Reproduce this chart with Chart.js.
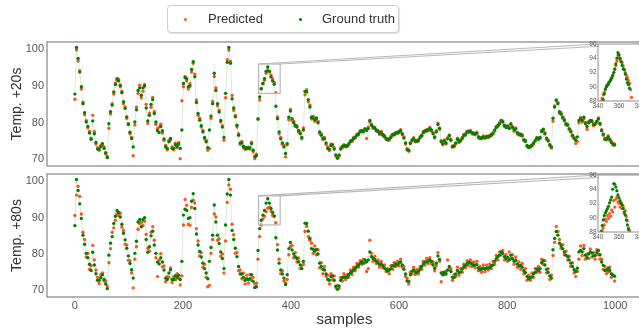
<!DOCTYPE html>
<html>
<head>
<meta charset="utf-8">
<script src="https://cdn.jsdelivr.net/npm/chart.js@4.4.1/dist/chart.umd.min.js"></script>
<style>
html, body { margin: 0; padding: 0; overflow: hidden; background: #fff; }
#wrap { position: relative; width: 646px; height: 329px; font-family: 'Liberation Sans', Arial, sans-serif; }
canvas { position: absolute; }
#legend { position: absolute; left: 167px; top: 5px; width: 230px; height: 26px; border: 1px solid #cfcfcf; border-radius: 4px; box-shadow: 1px 1px 1px rgba(0,0,0,0.12); background: #fff; }
.lg-dot { position: absolute; width: 3.5px; height: 3.5px; border-radius: 50%; top: 11.5px; }
.lg-txt { position: absolute; top: 5.5px; font-size: 13px; line-height: 14px; color: #333; white-space: nowrap; }
</style>
</head>
<body>
<div id="wrap">
  <canvas id="top" width="646" height="170" style="left:0;top:0"></canvas>
  <canvas id="bottom" width="646" height="159" style="left:0;top:170px"></canvas>
  <canvas id="insetTop" width="74" height="76" style="left:572px;top:36px"></canvas>
  <canvas id="insetBottom" width="74" height="76" style="left:572px;top:167px"></canvas>
  <div id="legend">
    <span class="lg-dot" style="left:15.5px;background:rgb(255,87,34)"></span>
    <span class="lg-txt" style="left:40px">Predicted</span>
    <span class="lg-dot" style="left:130.5px;background:rgb(0,128,0)"></span>
    <span class="lg-txt" style="left:154px">Ground truth</span>
  </div>
</div>
<script>
// Series sampled every STEP samples, starting at sample 0
const STEP = 3;

const groundTruth = [
  87.8, 100.5, 97.5, 93.8, 89.8, 85.2, 82.7, 80.2, 79.0, 77.2,
  75.5, 80.5, 77.0, 74.6, 72.8, 72.8, 73.5, 74.3, 73.0, 71.8,
  70.5, 79.7, 83.0, 84.8, 88.4, 90.4, 92.0, 91.4, 90.2, 88.2,
  85.7, 83.9, 81.6, 79.5, 77.4, 75.7, 73.4, 80.2, 83.5, 88.8,
  89.5, 87.5, 89.5, 90.0, 84.0, 80.5, 82.0, 85.0, 86.3, 82.5,
  80.2, 77.8, 77.3, 79.0, 77.8, 75.6, 73.4, 73.0, 74.8, 75.7,
  73.0, 73.0, 74.0, 73.6, 74.2, 73.0, 78.0, 90.7, 92.3, 92.0,
  89.8, 90.0, 94.5, 96.6, 92.5, 85.5, 82.5, 80.7, 79.2, 77.5,
  76.0, 74.8, 73.2, 78.0, 81.8, 85.2, 93.5, 88.8, 85.2, 82.9,
  80.6, 78.8, 76.0, 88.0, 96.5, 100.5, 96.2, 86.5, 84.0, 81.6,
  79.3, 76.6, 74.5, 74.5, 73.6, 72.8, 73.2, 73.0, 73.2, 74.3,
  72.5, 70.8, 71.0, 81.0, 87.0, 89.3, 90.7, 92.0, 94.0, 95.2,
  94.0, 92.5, 91.4, 90.5, 84.5, 81.1, 77.5, 75.6, 74.5, 73.4,
  71.6, 74.3, 81.5, 83.2, 81.1, 80.0, 79.3, 78.8, 77.9, 77.0,
  76.0, 78.0, 88.5, 88.4, 86.3, 84.3, 81.5, 81.3, 80.8, 81.3,
  80.0, 77.5, 76.6, 75.8, 75.6, 74.5, 73.0, 72.8, 73.8, 74.0,
  72.8, 71.2, 70.3, 71.2, 72.8, 73.5, 73.7, 73.7, 73.6, 74.3,
  74.8, 75.2, 75.7, 76.1, 76.6, 77.0, 77.5, 77.9, 77.5, 78.4,
  77.9, 78.4, 80.6, 79.3, 78.8, 78.5, 78.0, 77.6, 77.1, 77.3,
  76.8, 76.2, 75.8, 75.3, 75.6, 76.0, 76.8, 76.7, 77.3, 77.1,
  77.6, 77.8, 77.0, 75.8, 74.5, 72.6, 72.5, 74.3, 75.3, 75.6,
  75.1, 74.9, 75.3, 75.9, 76.6, 77.3, 77.8, 77.8, 78.1, 78.4,
  78.0, 77.0, 76.1, 77.5, 79.5, 78.5, 74.8, 74.3, 75.0, 74.5,
  75.6, 76.6, 75.2, 73.6, 73.6, 74.5, 75.5, 74.9, 75.1, 75.9,
  76.5, 76.9, 77.4, 77.7, 77.6, 77.3, 76.9, 77.0, 77.1, 76.2,
  75.7, 75.9, 76.1, 76.0, 76.1, 76.2, 76.3, 76.8, 77.0, 78.0,
  78.7, 79.3, 79.7, 80.6, 80.2, 79.3, 78.7, 79.1, 78.4, 79.7,
  78.7, 78.0, 78.3, 77.3, 76.7, 76.9, 76.4, 75.4, 74.9, 73.8,
  73.2, 73.6, 73.7, 74.5, 75.0, 75.9, 75.5, 76.0, 77.6, 78.2,
  77.0, 75.8, 75.0, 74.0, 73.4, 81.2, 84.3, 86.2, 85.2, 83.0,
  82.3, 81.5, 80.6, 79.7, 79.3, 78.4, 77.5, 76.6, 75.7, 75.2,
  76.1, 80.6, 81.0, 80.6, 81.5, 79.7, 79.0, 80.0, 80.6, 80.3,
  79.5, 79.6, 80.4, 81.0, 79.8, 77.8, 76.9, 75.5, 75.6, 76.1,
  75.5, 74.6, 74.2, 73.9
];

const predicted20 = [
  86.4, 99.8, 96.8, 94.2, 89.2, 85.6, 82.2, 80.6, 78.6, 77.6,
  75.8, 82.0, 77.6, 74.2, 73.2, 72.5, 73.8, 74.0, 73.4, 71.5,
  70.8, 78.5, 82.4, 85.2, 87.8, 90.8, 91.6, 91.8, 89.8, 88.6,
  85.2, 84.3, 81.2, 79.8, 77.0, 76.0, 71.0, 79.4, 84.2, 88.0,
  90.2, 86.8, 88.6, 90.4, 85.0, 79.8, 82.6, 84.2, 86.9, 83.0,
  79.6, 78.4, 78.8, 79.6, 77.2, 75.2, 73.8, 72.6, 75.2, 75.3,
  73.4, 72.6, 74.4, 73.2, 74.6, 70.2, 86.0, 89.8, 92.6, 91.4,
  89.2, 90.6, 93.8, 96.2, 93.2, 86.2, 82.0, 81.2, 78.8, 77.9,
  75.6, 75.2, 72.5, 73.0, 81.2, 85.8, 92.6, 89.5, 84.6, 83.4,
  80.2, 79.2, 75.2, 86.8, 97.2, 99.8, 96.8, 87.4, 83.4, 82.0,
  78.8, 77.0, 74.1, 74.9, 73.2, 73.2, 72.8, 73.4, 72.8, 74.7,
  72.1, 70.2, 71.4, 81.0, 86.2, 89.2, 90.6, 91.5, 93.5, 94.4,
  93.9, 93.0, 92.0, 91.0, 88.2, 81.6, 77.0, 76.0, 74.1, 73.8,
  70.7, 74.0, 80.8, 83.6, 80.6, 80.4, 79.0, 79.2, 77.5, 77.4,
  75.6, 78.6, 87.6, 89.0, 85.7, 84.8, 81.0, 81.8, 80.4, 81.0,
  80.4, 77.1, 77.0, 75.4, 76.0, 74.1, 73.4, 72.4, 74.2, 73.6,
  73.2, 70.9, 70.6, 70.9, 73.1, 73.2, 74.0, 73.4, 73.9, 74.0,
  75.1, 74.9, 76.0, 75.8, 76.9, 76.7, 77.8, 77.6, 77.8, 78.1,
  75.7, 78.8, 80.2, 79.6, 78.5, 78.8, 77.7, 77.9, 76.8, 77.6,
  76.5, 76.5, 75.5, 75.6, 75.3, 76.3, 76.5, 77.0, 77.0, 77.4,
  77.3, 78.1, 76.7, 76.1, 74.2, 72.9, 72.2, 74.6, 75.0, 75.9,
  74.8, 75.2, 75.0, 76.2, 76.3, 77.6, 77.5, 78.1, 77.8, 78.7,
  77.7, 77.3, 75.8, 77.8, 79.9, 78.2, 75.1, 74.0, 75.3, 74.2,
  75.9, 76.3, 75.5, 73.3, 73.9, 74.2, 75.8, 74.6, 75.4, 75.6,
  76.8, 76.6, 77.7, 77.4, 77.9, 77.0, 77.2, 76.7, 77.4, 75.9,
  76.0, 75.6, 76.4, 75.7, 76.4, 75.9, 76.6, 76.5, 77.3, 77.7,
  79.0, 79.0, 80.0, 80.3, 80.5, 79.0, 79.0, 78.8, 78.7, 79.4,
  79.0, 77.7, 78.6, 77.0, 77.0, 76.6, 76.7, 75.1, 75.2, 73.5,
  73.5, 73.3, 74.0, 74.2, 75.3, 75.6, 75.8, 75.7, 77.9, 77.9,
  77.3, 75.5, 75.3, 73.7, 73.1, 80.4, 84.6, 86.0, 85.5, 82.6,
  82.7, 81.2, 80.9, 79.4, 79.6, 78.1, 77.8, 76.3, 76.0, 74.3,
  74.9, 80.0, 81.4, 80.2, 81.1, 80.1, 78.2, 80.3, 80.3, 80.6,
  79.2, 79.9, 80.1, 81.3, 79.5, 78.1, 76.6, 75.8, 75.3, 76.4,
  75.2, 74.9, 73.9, 74.2
];

const predicted80 = [
  90.6, 96.2, 98.6, 95.8, 91.0, 86.0, 84.0, 79.2, 80.2, 75.8,
  76.8, 82.4, 78.4, 75.6, 73.6, 71.9, 74.3, 74.8, 72.6, 72.6,
  71.2, 77.6, 81.5, 86.0, 87.2, 89.3, 91.0, 90.6, 91.2, 87.4,
  86.5, 82.7, 82.5, 78.3, 78.2, 74.8, 70.7, 78.6, 82.0, 86.8,
  88.4, 88.7, 87.8, 89.0, 85.4, 81.6, 80.8, 86.0, 87.5, 83.8,
  79.0, 73.8, 78.4, 80.1, 76.5, 76.7, 72.4, 73.8, 73.6, 76.2,
  72.2, 73.8, 72.9, 74.6, 73.3, 71.5, 74.0, 88.0, 95.0, 93.4,
  88.2, 87.9, 92.8, 94.8, 94.0, 87.0, 83.6, 79.5, 80.4, 76.4,
  77.2, 73.6, 71.0, 71.4, 80.2, 84.0, 91.0, 90.2, 83.8, 84.2,
  79.4, 80.0, 74.8, 83.6, 94.2, 99.0, 97.8, 88.2, 85.3, 80.2,
  80.4, 75.4, 75.6, 73.2, 74.8, 71.8, 74.2, 72.0, 74.4, 72.8,
  73.6, 71.8, 72.0, 78.6, 84.8, 88.0, 89.6, 90.4, 91.6, 92.6,
  92.9, 91.8, 90.6, 90.3, 88.6, 82.6, 78.6, 74.6, 75.4, 72.6,
  72.0, 73.0, 79.8, 82.0, 82.4, 79.0, 80.4, 77.8, 78.9, 76.0,
  76.9, 77.2, 86.2, 87.6, 84.8, 83.8, 83.0, 80.2, 82.2, 79.8,
  81.2, 76.2, 77.6, 74.6, 76.6, 73.8, 74.2, 71.8, 74.6, 73.0,
  74.0, 70.8, 71.4, 70.6, 73.6, 72.6, 74.6, 73.0, 74.4, 73.6,
  75.6, 74.4, 76.4, 75.4, 77.4, 76.4, 78.2, 77.2, 78.6, 77.6,
  75.2, 76.0, 83.8, 80.2, 78.0, 79.4, 77.4, 78.4, 76.4, 78.0,
  76.2, 77.0, 75.2, 76.0, 74.6, 76.8, 75.8, 77.6, 76.6, 78.0,
  76.8, 78.6, 76.4, 76.6, 73.8, 73.4, 71.8, 75.0, 74.6, 76.4,
  74.4, 75.8, 74.6, 76.6, 75.8, 78.0, 77.0, 78.8, 77.4, 79.0,
  77.4, 77.8, 75.4, 76.8, 80.4, 78.0, 72.4, 75.0, 74.4, 75.2,
  78.4, 75.8, 76.0, 72.8, 74.4, 73.8, 76.4, 74.2, 76.0, 75.0,
  77.2, 76.2, 78.2, 76.8, 78.4, 76.6, 77.8, 76.2, 78.0, 75.4,
  76.6, 75.0, 77.0, 75.2, 77.0, 75.6, 77.2, 76.0, 78.0, 77.2,
  79.6, 78.4, 80.6, 79.8, 81.0, 78.4, 79.8, 78.0, 80.6, 78.8,
  79.8, 77.2, 79.2, 76.4, 77.8, 75.8, 77.4, 74.6, 76.0, 72.8,
  74.2, 72.8, 74.8, 73.6, 76.0, 75.0, 76.6, 75.0, 78.6, 77.2,
  78.2, 74.8, 76.0, 73.0, 74.2, 79.6, 83.2, 87.6, 86.2, 84.0,
  81.6, 82.6, 79.8, 80.8, 78.4, 79.4, 76.6, 77.6, 74.8, 73.8,
  75.2, 78.6, 82.2, 79.6, 82.4, 78.6, 80.0, 78.8, 81.4, 79.2,
  80.4, 78.6, 81.2, 79.8, 78.6, 78.6, 75.8, 76.6, 74.6, 75.0,
  76.4, 73.6, 74.2, 72.6
];

// Zoomed insets: one value per sample, from sample 343
const INSET_START = 343;
const insetGt20 = [86.8, 87.5, 88.2, 89.0, 89.7, 90.0, 90.2, 90.4, 90.7, 91.0,
  91.2, 91.6, 92.0, 92.5, 93.2, 94.0, 94.8, 94.5, 94.0, 93.5,
  93.0, 92.5, 92.4, 91.8, 91.1, 90.6, 90.3, 89.8, 85.7, 84.5];
const insetPred20 = [88.0, 88.4, 88.9, 89.2, 89.6, 90.1, 90.3, 90.6, 90.7, 90.9,
  91.3, 91.5, 92.0, 92.4, 93.0, 93.6, 94.4, 94.2, 93.8, 93.6,
  93.4, 92.9, 92.4, 92.0, 91.6, 91.3, 90.9, 90.5, 89.6, 88.5];
const insetGt80 = [88.1, 88.9, 89.7, 90.3, 90.7, 91.0, 91.3, 91.6, 92.1, 92.5,
  92.9, 94.0, 94.8, 94.7, 94.3, 93.8, 93.2, 92.8, 92.4, 92.1,
  91.8, 91.3, 90.8, 90.4, 89.7, 89.0, 88.4, 87.6, 86.5, 85.2];
const insetPred80 = [87.6, 88.2, 88.6, 89.0, 89.8, 89.5, 90.3, 89.9, 90.6, 90.2,
  91.1, 90.8, 92.4, 91.5, 92.6, 92.9, 92.2, 92.0, 91.5, 92.0,
  91.3, 91.6, 90.6, 91.0, 90.2, 89.6, 88.6, 88.2, 87.4, 86.6];

const xTicks = [0, 200, 400, 600, 800, 1000];
const yTicks = [70, 80, 90, 100];
const insetXTicks = [340, 360, 380];
const insetYTicks = [88, 90, 92, 94, 96];
const ZOOM_X = [340, 380];
const ZOOM_Y = [88, 96];

const GREEN = 'rgb(0,128,0)';
const ORANGE = 'rgb(255,87,34)';
const GT_LINE = 'rgba(0,128,0,0.16)';
const FRAME = '#8e8e8e';
const LINK = '#b8b8b8';

Chart.defaults.font.family = "'Liberation Sans', Arial, sans-serif";
Chart.defaults.color = '#555';

function toPoints(vals, start, step) {
    return vals.map((v, i) => ({ x: start + i * step, y: v }));
}

// stop tick labels from shrinking the plot area
function noLabelPadding(s) {
    s.paddingTop = 0; s.paddingBottom = 0; s.paddingLeft = 0; s.paddingRight = 0;
}

// white fill + grey frame around the plot area
const framePlugin = {
    id: 'frame',
    beforeDatasetsDraw(chart, args, opts) {
        const { ctx, chartArea: a } = chart;
        ctx.save();
        ctx.fillStyle = '#fff';
        ctx.fillRect(a.left, a.top, a.right - a.left, a.bottom - a.top);
        ctx.restore();
    },
    afterDatasetsDraw(chart, args, opts) {
        const { ctx, chartArea: a } = chart;
        ctx.save();
        ctx.strokeStyle = FRAME;
        ctx.lineWidth = opts.width || 1.2;
        ctx.strokeRect(a.left, a.top, a.right - a.left, a.bottom - a.top);
        ctx.restore();
    }
};

// zoom box on the main axes + lines to the inset corners
const zoomLinkPlugin = {
    id: 'zoomLink',
    afterDatasetsDraw(chart, args, opts) {
        if (!opts.inset) return;
        const { ctx, scales: { x, y } } = chart;
        const ia = opts.inset.chartArea;
        const dx = opts.inset.canvas.offsetLeft - chart.canvas.offsetLeft;
        const dy = opts.inset.canvas.offsetTop - chart.canvas.offsetTop;
        const l = x.getPixelForValue(ZOOM_X[0]), r = x.getPixelForValue(ZOOM_X[1]);
        const t = y.getPixelForValue(ZOOM_Y[1]), b = y.getPixelForValue(ZOOM_Y[0]);
        ctx.save();
        ctx.strokeStyle = LINK;
        ctx.lineWidth = 1.2;
        ctx.strokeRect(l, t, r - l, b - t);
        ctx.beginPath();
        ctx.moveTo(l, t);
        ctx.lineTo(ia.left + dx, ia.top + dy);
        ctx.moveTo(r, t);
        ctx.lineTo(ia.right + dx, ia.top + dy);
        ctx.stroke();
        ctx.restore();
    }
};

function datasets(gtPts, predPts, radius) {
    return [
        { label: 'Ground truth', data: gtPts, showLine: true, borderColor: GT_LINE, borderWidth: 1,
          pointRadius: radius, pointBackgroundColor: GREEN, pointBorderWidth: 0, order: 1, clip: 0 },
        { label: 'Predicted', data: predPts, showLine: false,
          pointRadius: radius, pointBackgroundColor: ORANGE, pointBorderWidth: 0, order: 2, clip: 0 }
    ];
}

function makeInset(id, gtVals, predVals) {
    return new Chart(document.getElementById(id), {
        type: 'scatter',
        data: { datasets: datasets(toPoints(gtVals, INSET_START, 1), toPoints(predVals, INSET_START, 1), 1.6) },
        options: {
            responsive: false, animation: false, devicePixelRatio: 1,
            events: [],
            layout: { padding: { left: 0, top: 8, right: 6, bottom: 0 } },
            plugins: { legend: { display: false }, tooltip: { enabled: false }, frame: { width: 1 } },
            scales: {
                x: {
                    type: 'linear', min: ZOOM_X[0], max: ZOOM_X[1],
                    grid: { display: false, drawTicks: false }, border: { display: false },
                    ticks: { font: { size: 6.5 }, padding: 1.5, maxRotation: 0, autoSkip: false, callback: v => String(v) },
                    afterBuildTicks: s => { s.ticks = insetXTicks.map(v => ({ value: v })); },
                    afterFit: s => { s.height = 11; noLabelPadding(s); }
                },
                y: {
                    min: ZOOM_Y[0], max: ZOOM_Y[1],
                    grid: { display: false, drawTicks: false }, border: { display: false },
                    ticks: { font: { size: 6.5 }, padding: 1.5, autoSkip: false, callback: v => String(v) },
                    afterBuildTicks: s => { s.ticks = insetYTicks.map(v => ({ value: v })); },
                    afterFit: s => { s.width = 26; noLabelPadding(s); }
                }
            }
        },
        plugins: [framePlugin]
    });
}

function makeMain(id, predVals, yTitle, showX, inset, padding) {
    return new Chart(document.getElementById(id), {
        type: 'scatter',
        data: { datasets: datasets(toPoints(groundTruth, 0, STEP), toPoints(predVals, 0, STEP), 1.7) },
        options: {
            responsive: false, animation: false, devicePixelRatio: 1,
            events: [],
            layout: { padding: padding },
            plugins: { legend: { display: false }, tooltip: { enabled: false }, frame: { width: 1.3 }, zoomLink: { inset: inset } },
            scales: {
                x: {
                    type: 'linear', min: -51.6, max: 1049.7, display: showX,
                    grid: { display: false, drawTicks: false }, border: { display: false },
                    ticks: { font: { size: 11 }, padding: 2, maxRotation: 0, autoSkip: false, callback: v => String(v) },
                    afterBuildTicks: s => { s.ticks = xTicks.map(v => ({ value: v })); },
                    afterFit: s => { s.height = showX ? 32 : 0; noLabelPadding(s); },
                    title: { display: showX, text: 'samples', color: '#333', font: { size: 15 }, padding: { top: 0, bottom: 0 } }
                },
                y: {
                    min: 68.2, max: 102,
                    grid: { display: false, drawTicks: false }, border: { display: false },
                    ticks: { font: { size: 11 }, padding: 3, callback: v => String(v) },
                    afterBuildTicks: s => { s.ticks = yTicks.map(v => ({ value: v })); },
                    afterFit: s => { s.width = 47; noLabelPadding(s); },
                    title: { display: true, text: yTitle, color: '#333', font: { size: 14 }, padding: { top: 8.6, bottom: 0 } }
                }
            }
        },
        plugins: [framePlugin, zoomLinkPlugin]
    });
}

const insetTop = makeInset('insetTop', insetGt20, insetPred20);
const insetBottom = makeInset('insetBottom', insetGt80, insetPred80);

makeMain('top', predicted20, 'Temp. +20s', false, insetTop, { left: 0, top: 42, right: 1, bottom: 4 });
makeMain('bottom', predicted80, 'Temp. +80s', true, insetBottom, { left: 0, top: 3, right: 1, bottom: 0 });
</script>
</body>
</html>
